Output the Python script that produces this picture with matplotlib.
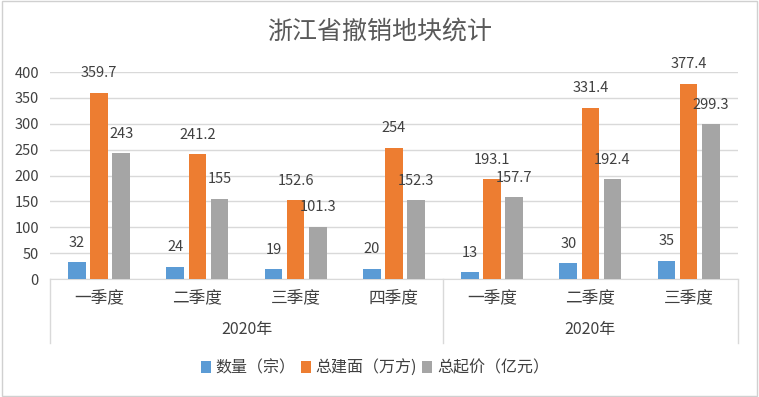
import numpy as np
import matplotlib.pyplot as plt
from matplotlib.patches import Rectangle
from matplotlib.transforms import blended_transform_factory

plt.rcParams['font.family'] = ['Noto Sans CJK SC', 'DejaVu Sans']

quarters = ['一季度', '二季度', '三季度', '四季度', '一季度', '二季度', '三季度']
years = ['2020年', '2020年']
year_spans = [(0, 3), (4, 6)]
count = [32, 24, 19, 20, 13, 30, 35]
area = [359.7, 241.2, 152.6, 254, 193.1, 331.4, 377.4]
price = [243, 155, 101.3, 152.3, 157.7, 192.4, 299.3]
series_names = ['数量（宗）', '总建面（万方)', '总起价（亿元）']
colors = ['#5B9BD5', '#ED7D31', '#A5A5A5']
text_color = '#404040'
grid_color = '#D9D9D9'

fig = plt.figure(figsize=(7.59, 3.97), dpi=100)
ax = fig.add_axes([0.0659, 0.2972, 0.9061, 0.5214])

x = np.arange(len(quarters))
width = 0.18
offsets = [-0.225, 0, 0.225]
for vals, off, c, name in zip([count, area, price], offsets, colors, series_names):
    bars = ax.bar(x + off, vals, width, color=c, label=name, zorder=3)
    for b, v in zip(bars, vals):
        ax.text(b.get_x() + b.get_width() / 2, v + 24, f'{v:g}',
                ha='center', va='bottom', fontsize=10.5, color=text_color)

ax.set_xlim(-0.5, len(quarters) - 0.5)
ax.set_ylim(0, 400)
ax.set_yticks(range(0, 401, 50))
ax.yaxis.grid(True, color=grid_color, linewidth=1, zorder=0)
ax.tick_params(axis='y', length=0, labelsize=10.5, labelcolor=text_color, pad=8)
ax.set_xticks([])
for s in ['top', 'right', 'left']:
    ax.spines[s].set_visible(False)
ax.spines['bottom'].set_color(grid_color)

# multi-level category axis
tr = blended_transform_factory(ax.transData, ax.transAxes)
for xi, q in zip(x, quarters):
    ax.text(xi, -0.092, q, transform=tr, ha='center', va='center',
            fontsize=12, color=text_color)
for (a, b), y in zip(year_spans, years):
    ax.text((a + b) / 2, -0.246, y, transform=tr, ha='center', va='center',
            fontsize=11.5, color=text_color)
for xb in [-0.5, 3.5, 6.5]:
    ax.plot([xb, xb], [0, -0.31], transform=tr, color=grid_color,
            linewidth=1, clip_on=False)

fig.text(0.5, 0.92, '浙江省撤销地块统计', ha='center', va='center',
         fontsize=18, color='#595959')

leg = fig.legend(loc='center', bbox_to_anchor=(0.494, 0.073), ncol=3, frameon=False,
                 fontsize=11.5, handlelength=0.65, handleheight=0.75,
                 handletextpad=0.3, columnspacing=0.3)
for t in leg.get_texts():
    t.set_color(text_color)

fig.patches.append(Rectangle((0.002, 0.003), 0.996, 0.994, transform=fig.transFigure,
                             fill=False, edgecolor='#D0D0D0', linewidth=1))

fig.savefig('out.png', dpi=100)
